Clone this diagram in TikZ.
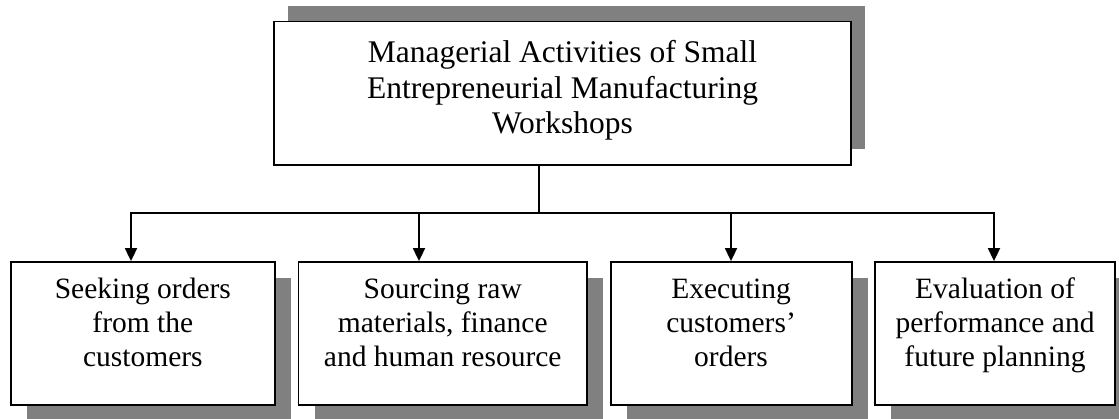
\documentclass[tikz,border=0pt]{standalone}
\usepackage{fontspec}
\setmainfont{Liberation Serif}
\usetikzlibrary{arrows.meta,shadows}
\definecolor{shadegray}{HTML}{808080}
\begin{document}
\begin{tikzpicture}[x=1pt,y=-1pt,
  box/.style={draw=black, line width=1.8pt, fill=white, inner sep=0pt,
    minimum height=143pt},
  lowshadow/.style={drop shadow={shadow xshift=16pt, shadow yshift=-16pt,
    fill=shadegray, opacity=1}},
  topshadow/.style={drop shadow={shadow xshift=13.5pt, shadow yshift=15.5pt,
    fill=shadegray, opacity=1}},
  headtext/.style={anchor=north, align=center, inner sep=0pt,
    font=\fontsize{31.5}{35.5}\selectfont},
  subtext/.style={anchor=north, align=center, inner sep=0pt,
    font=\fontsize{29.5}{34}\selectfont},
  link/.style={draw=black, line width=1.8pt},
  arrow/.style={link, -{Triangle[width=12pt,length=13pt]}}]

\useasboundingbox (0,0) rectangle (1119,419);

% main box
\node[box, topshadow, minimum width=577pt, minimum height=143.5pt] (top) at (562.5,93.25) {};
\node[headtext] (toptext) at (562.5,38.5)
  {\rule{0pt}{24pt}Managerial Activities of Small\\Entrepreneurial Manufacturing\\Workshops};

% the four activity boxes
\node[box, lowshadow, minimum width=264.3pt] (box1) at (142.85,333.5) {};
\node[box, lowshadow, minimum width=288.5pt] (box2) at (442.75,333.5) {};
\node[box, lowshadow, minimum width=241pt]   (box3) at (731.1,333.5) {};
\node[box, lowshadow, minimum width=240pt]   (box4) at (995,333.5) {};

\node[subtext] (text1) at (142.85,276) {\rule{0pt}{22pt}Seeking orders\\from the\\customers};
\node[subtext] (text2) at (442.75,276) {\rule{0pt}{22pt}Sourcing raw\\materials, finance\\and human resource};
\node[subtext] (text3) at (731.1,276) {\rule{0pt}{22pt}Executing\\customers’\\orders};
\node[subtext] (text4) at (995,276) {\rule{0pt}{22pt}Evaluation of\\performance and\\future planning};

% connectors
\coordinate (hub) at (539,213);
\coordinate (j1) at (131,213);
\coordinate (j2) at (419,213);
\coordinate (j3) at (731,213);
\coordinate (j4) at (994,213);

\draw[link] (top.south -| hub) -- (hub);
\draw[link, line cap=rect] (j1) -- (j4);
\draw[arrow] (j1) -- (j1 |- box1.north);
\draw[arrow] (j2) -- (j2 |- box2.north);
\draw[arrow] (j3) -- (j3 |- box3.north);
\draw[arrow] (j4) -- (j4 |- box4.north);
\end{tikzpicture}
\end{document}
